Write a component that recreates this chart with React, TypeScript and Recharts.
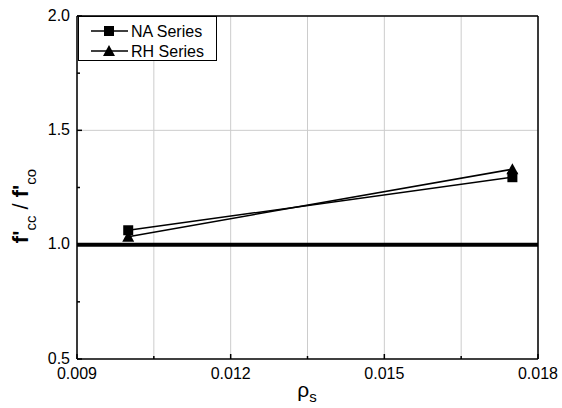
import React from 'react';
import {
  CartesianGrid,
  Legend,
  Line,
  LineChart,
  ReferenceLine,
  XAxis,
  YAxis,
} from 'recharts';

// values
const rhoS = [0.01, 0.0175];
const naSeries = [1.063, 1.295];
const rhSeries = [1.035, 1.33];

const xTicks = [0.009, 0.0105, 0.012, 0.0135, 0.015, 0.0165, 0.018];
const xMajor = [0.009, 0.012, 0.015, 0.018];
const yTicks = [0.5, 0.75, 1.0, 1.25, 1.5, 1.75, 2.0];
const yMajor = [0.5, 1.0, 1.5, 2.0];
const yGrid = [1.0, 1.5, 2.0];

const data = rhoS.map((rho, i) => ({ rho, na: naSeries[i], rh: rhSeries[i] }));

const FONT = '"Liberation Sans", Arial, Helvetica, sans-serif';

const isMajor = (list: number[], v: number) => list.some((m) => Math.abs(m - v) < 1e-9);

const XTick = (props: any) => {
  const { x, y, payload } = props;
  const major = isMajor(xMajor, payload.value);
  return (
    <g>
      <line x1={x} x2={x} y1={y} y2={y - (major ? 5 : 3)} stroke="#000" strokeWidth={1.5} />
      {major && (
        <text x={x} y={y + 20} textAnchor="middle" fontSize={16} fontFamily={FONT} fill="#000">
          {payload.value.toFixed(3)}
        </text>
      )}
    </g>
  );
};

const YTick = (props: any) => {
  const { x, y, payload } = props;
  const major = isMajor(yMajor, payload.value);
  return (
    <g>
      <line x1={x} x2={x + (major ? 5 : 3)} y1={y} y2={y} stroke="#000" strokeWidth={1.5} />
      {major && (
        <text x={x - 7} y={y} dy="0.3em" textAnchor="end" fontSize={16} fontFamily={FONT} fill="#000">
          {payload.value.toFixed(1)}
        </text>
      )}
    </g>
  );
};

const Square = (p: any) => (
  <rect key={`sq-${p.index}`} x={p.cx - 5} y={p.cy - 5} width={10} height={10} fill="#000" />
);

const Triangle = (p: any) => (
  <path
    key={`tr-${p.index}`}
    d={`M${p.cx},${p.cy - 6} L${p.cx + 6},${p.cy + 5} L${p.cx - 6},${p.cy + 5} Z`}
    fill="#000"
  />
);

const LegendBox = (props: any) => {
  const { payload = [] } = props;
  return (
    <div style={{ border: '1px solid #000', background: '#fff', width: 137, height: 43 }}>
      <svg width={137} height={43}>
        {payload.map((entry: any, i: number) => {
          const cy = 14 + i * 20;
          return (
            <g key={entry.value}>
              <line x1={12} x2={49} y1={cy} y2={cy} stroke="#000" strokeWidth={1.5} />
              {entry.dataKey === 'na' ? (
                <rect x={25} y={cy - 5} width={10} height={10} fill="#000" />
              ) : (
                <path d={`M30,${cy - 6} L36,${cy + 5} L24,${cy + 5} Z`} fill="#000" />
              )}
              <text x={52} y={cy} dy="0.35em" fontSize={16} fontFamily={FONT} fill="#000">
                {entry.value}
              </text>
            </g>
          );
        })}
      </svg>
    </div>
  );
};

const YLabel = () => (
  <text
    x={28}
    y={206}
    transform="rotate(-90, 28, 206)"
    textAnchor="middle"
    fontFamily={FONT}
    fill="#000"
  >
    <tspan fontSize={22} fontWeight="bold">f'</tspan>
    <tspan fontSize={15} dy={8}>cc</tspan>
    <tspan fontSize={22} dy={-8}> / </tspan>
    <tspan fontSize={22} fontWeight="bold">f'</tspan>
    <tspan fontSize={15} dy={8}>co</tspan>
  </text>
);

const XLabel = () => (
  <text x={307} y={397} textAnchor="middle" fontFamily={FONT} fill="#000">
    <tspan fontSize={21}>ρ</tspan>
    <tspan fontSize={15} dy={5}>s</tspan>
  </text>
);

export default function App() {
  return (
    <div style={{ position: 'absolute', left: 0, top: 0, width: 562, height: 408, background: '#fff' }}>
      <LineChart width={562} height={408} data={data} margin={{ top: 16, right: 24, bottom: 0, left: 32 }}>
        <CartesianGrid
          stroke="#cccccc"
          strokeWidth={1}
          verticalValues={xTicks}
          horizontalValues={yGrid}
        />
        <XAxis
          dataKey="rho"
          type="number"
          domain={[0.009, 0.018]}
          ticks={xTicks}
          interval={0}
          height={49}
          tickSize={0}
          tickMargin={0}
          tick={<XTick />}
          axisLine={{ stroke: '#000', strokeWidth: 1.5 }}
          label={<XLabel />}
        />
        <YAxis
          type="number"
          domain={[0.5, 2.0]}
          ticks={yTicks}
          interval={0}
          width={45}
          tickSize={0}
          tickMargin={0}
          tick={<YTick />}
          axisLine={{ stroke: '#000', strokeWidth: 1.5 }}
          label={<YLabel />}
        />
        <ReferenceLine y={2.0} stroke="#000" strokeWidth={1.5} />
        <ReferenceLine x={0.018} stroke="#000" strokeWidth={1.5} />
        <ReferenceLine y={1.0} stroke="#000" strokeWidth={4} />
        <Line
          dataKey="na"
          name="NA Series"
          type="linear"
          stroke="#000"
          strokeWidth={1.5}
          dot={Square}
          activeDot={false}
          isAnimationActive={false}
        />
        <Line
          dataKey="rh"
          name="RH Series"
          type="linear"
          stroke="#000"
          strokeWidth={1.5}
          dot={Triangle}
          activeDot={false}
          isAnimationActive={false}
        />
        <Legend
          layout="vertical"
          align="center"
          verticalAlign="middle"
          content={<LegendBox />}
          wrapperStyle={{ top: 16, left: 78, width: 139, height: 45 }}
        />
      </LineChart>
    </div>
  );
}
